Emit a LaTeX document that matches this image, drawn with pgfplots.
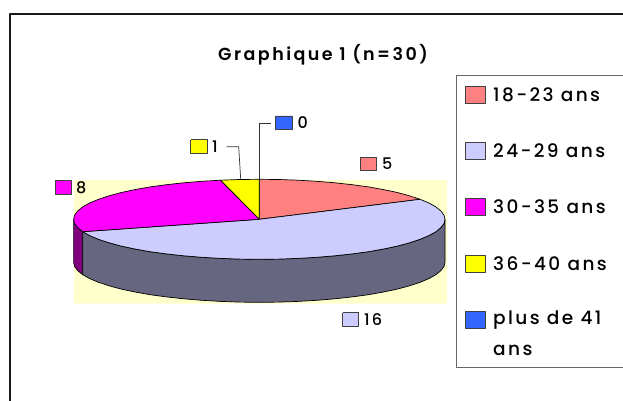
\documentclass[border=0pt]{standalone}
\usepackage{pgfplots}
\pgfplotsset{compat=1.18}
\usepackage{fontspec}
\setmainfont{Poppins}
\newfontfamily\lf[LetterSpace=13]{Poppins Medium}
\newfontfamily\tf[LetterSpace=14,BoldFont={Poppins SemiBold}]{Poppins}
\definecolor{cA}{HTML}{FF8080}
\definecolor{cB}{HTML}{CCCCFF}
\definecolor{cC}{HTML}{FF00FF}
\definecolor{cD}{HTML}{FFFF00}
\definecolor{cE}{HTML}{3366FF}
\definecolor{sB}{HTML}{666680}
\definecolor{sC}{HTML}{800080}
\definecolor{bg}{HTML}{FFFFCC}
\newcommand{\swatch}[5]{\addplot[fill=#5,draw=black!75,line width=0.9pt] coordinates {(#1,#2)(#3,#2)(#3,#4)(#1,#4)(#1,#2)};}
\begin{document}
\begin{tikzpicture}
\begin{axis}[
  scale only axis, width=623pt, height=401pt,
  xmin=0, xmax=623, ymin=0, ymax=401, y dir=reverse,
  axis lines=none, ticks=none, clip=true, clip mode=individual,
  every axis plot/.append style={line join=round},
]
% page
\addplot[fill=white,draw=none] coordinates {(0,0)(623,0)(623,401)(0,401)(0,0)};
% frame
\addplot[draw=black!90,line width=2.1pt] coordinates {(10.3,401)(10.3,14)(623,14)};
% backdrop
\addplot[fill=bg,draw=none] coordinates {(74,180)(447,180)(447,303.7)(74,303.7)(74,180)};
% side, slice 8
\addplot[fill=sC,draw=black,line width=0.7pt] coordinates {
(73.6,219.3)(74.6,223.5)(77.7,227.6)(82.7,231.7)
(82.7,274.7)(77.7,270.6)(74.6,266.5)(73.6,262.3)(73.6,219.3)};
% side, slice 16
\addplot[fill=sB,draw=black,line width=0.7pt] coordinates {
(445.0,219.3)(444.0,223.5)(440.9,227.6)(435.9,231.7)(428.9,235.6)(420.1,239.3)(409.5,242.8)(397.3,246.1)(383.6,249.0)(368.5,251.7)(352.2,253.9)(334.8,255.8)(316.7,257.3)(297.9,258.4)(278.7,259.1)(259.3,259.3)(239.9,259.1)(220.7,258.4)(201.9,257.3)(183.8,255.8)(166.4,253.9)(150.1,251.7)(135.0,249.0)(121.3,246.1)(109.1,242.8)(98.5,239.3)(89.7,235.6)(82.7,231.7)
(82.7,274.7)(89.7,278.6)(98.5,282.3)(109.1,285.8)(121.3,289.1)(135.0,292.0)(150.1,294.7)(166.4,296.9)(183.8,298.8)(201.9,300.3)(220.7,301.4)(239.9,302.1)(259.3,302.3)(278.7,302.1)(297.9,301.4)(316.7,300.3)(334.8,298.8)(352.2,296.9)(368.5,294.7)(383.6,292.0)(397.3,289.1)(409.5,285.8)(420.1,282.3)(428.9,278.6)(435.9,274.7)(440.9,270.6)(444.0,266.5)(445.0,262.3)(445.0,219.3)};
% top, 5
\addplot[fill=cA,draw=black,line width=0.7pt] coordinates {
(259.3,219.3)(259.3,179.3)(278.7,179.5)(297.9,180.2)(316.7,181.3)(334.8,182.8)(352.2,184.7)(368.5,186.9)(383.6,189.6)(397.3,192.5)(409.5,195.8)(420.1,199.3)(259.3,219.3)};
% top, 16
\addplot[fill=cB,draw=black,line width=0.7pt] coordinates {
(259.3,219.3)(420.1,199.3)(428.9,203.0)(435.9,206.9)(440.9,211.0)(444.0,215.1)(445.0,219.3)(444.0,223.5)(440.9,227.6)(435.9,231.7)(428.9,235.6)(420.1,239.3)(409.5,242.8)(397.3,246.1)(383.6,249.0)(368.5,251.7)(352.2,253.9)(334.8,255.8)(316.7,257.3)(297.9,258.4)(278.7,259.1)(259.3,259.3)(239.9,259.1)(220.7,258.4)(201.9,257.3)(183.8,255.8)(166.4,253.9)(150.1,251.7)(135.0,249.0)(121.3,246.1)(109.1,242.8)(98.5,239.3)(89.7,235.6)(82.7,231.7)(259.3,219.3)};
% top, 8
\addplot[fill=cC,draw=black,line width=0.7pt] coordinates {
(259.3,219.3)(82.7,231.7)(77.7,227.6)(74.6,223.5)(73.6,219.3)(74.6,215.1)(77.7,211.0)(82.7,206.9)(89.7,203.0)(98.5,199.3)(109.1,195.8)(121.3,192.5)(135.0,189.6)(150.1,186.9)(166.4,184.7)(183.8,182.8)(201.9,181.3)(220.7,180.2)(259.3,219.3)};
% top, 1
\addplot[fill=cD,draw=black,line width=0.7pt] coordinates {
(259.3,219.3)(220.7,180.2)(239.9,179.5)(259.3,179.3)(259.3,219.3)};
% leaders
\addplot[draw=black!80,line width=0.7pt] coordinates {(226.7,146.7)(238.7,146.7)(240.7,179.4)};
\addplot[draw=black!80,line width=0.7pt] coordinates {(270.7,123)(259.3,123)(259.3,179.3)};
% data labels
\swatch{360.3}{157.3}{376.7}{170.7}{cA}
\swatch{342.7}{312.7}{358.3}{326.7}{cB}
\swatch{55.3}{180.7}{71}{194}{cC}
\swatch{190.7}{139.7}{207.3}{153.3}{cD}
\swatch{275.3}{116}{292}{129.7}{cE}
\node[anchor=west,inner sep=0pt,font=\lf\fontsize{16}{18}\selectfont] at (axis cs:382,164) {5};
\node[anchor=west,inner sep=0pt,font=\lf\fontsize{16}{18}\selectfont] at (axis cs:364,320) {16};
\node[anchor=west,inner sep=0pt,font=\lf\fontsize{16}{18}\selectfont] at (axis cs:76,188) {8};
\node[anchor=west,inner sep=0pt,font=\lf\fontsize{16}{18}\selectfont] at (axis cs:212,147) {1};
\node[anchor=west,inner sep=0pt,font=\lf\fontsize{16}{18}\selectfont] at (axis cs:297.3,123) {0};
% title
\node[inner sep=0pt,font=\tf\bfseries\fontsize{17.5}{20}\selectfont] at (axis cs:323,55) {Graphique 1 (n=30)};
% legend box
\addplot[draw=black!60,line width=0.9pt] coordinates {(623,75.5)(456.5,75.5)(456.5,367)(623,367)};
\swatch{465.3}{86.7}{485.7}{103.3}{cA}
\swatch{465.3}{142.7}{485.7}{159.3}{cB}
\swatch{465.3}{198.7}{485.7}{215.7}{cC}
\swatch{465.3}{255.3}{485.7}{272}{cD}
\swatch{465.3}{311}{485.7}{328}{cE}
\node[anchor=west,inner sep=0pt,font=\lf\fontsize{18.5}{20}\selectfont] at (axis cs:493,95) {18-23 ans};
\node[anchor=west,inner sep=0pt,font=\lf\fontsize{18.5}{20}\selectfont] at (axis cs:493,151) {24-29 ans};
\node[anchor=west,inner sep=0pt,font=\lf\fontsize{18.5}{20}\selectfont] at (axis cs:493,207) {30-35 ans};
\node[anchor=west,inner sep=0pt,font=\lf\fontsize{18.5}{20}\selectfont] at (axis cs:493,263.7) {36-40 ans};
\node[anchor=west,inner sep=0pt,font=\lf\fontsize{18.5}{20}\selectfont] at (axis cs:493,320) {plus de 41};
\node[anchor=west,inner sep=0pt,font=\lf\fontsize{18.5}{20}\selectfont] at (axis cs:493,350) {ans};
\end{axis}
\end{tikzpicture}
\end{document}
